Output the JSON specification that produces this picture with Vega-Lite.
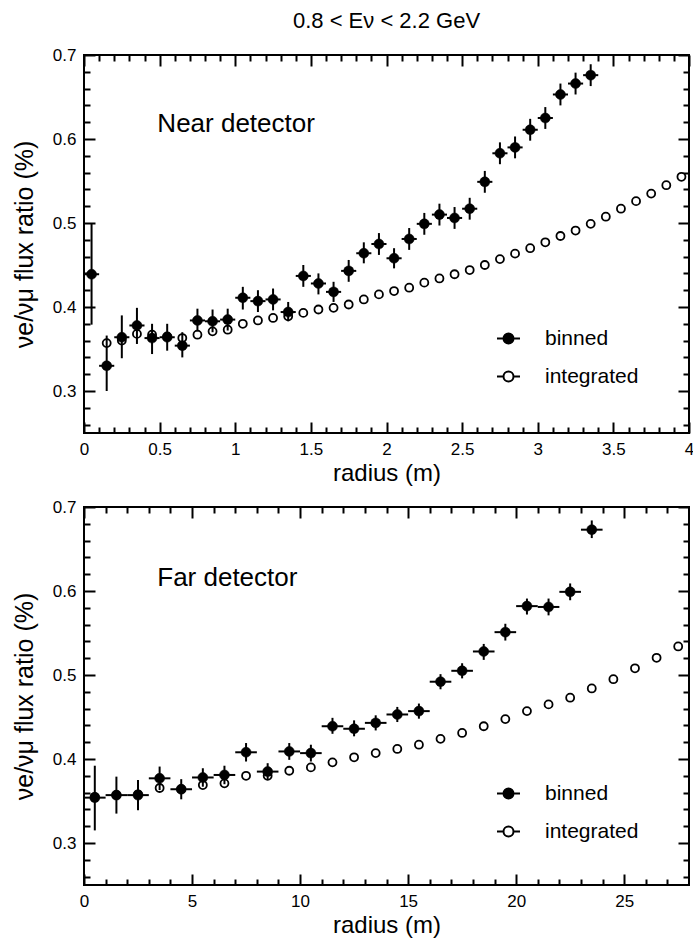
{
  "$schema": "https://vega.github.io/schema/vega-lite/v6.json",
  "background": "white",
  "padding": {"left": 11, "top": 10, "right": -2, "bottom": 5},
  "title": {"text": "0.8 < Eν < 2.2 GeV", "fontSize": 22, "fontWeight": "normal", "font": "Liberation Sans", "anchor": "middle", "frame": "group", "offset": 12, "color": "black"},
  "datasets": {
    "nearBin": [
      {"r": 0.05, "r0": 0.0, "r1": 0.1, "v": 0.439, "lo": 0.379, "hi": 0.499},
      {"r": 0.15, "r0": 0.1, "r1": 0.2, "v": 0.330, "lo": 0.300, "hi": 0.366},
      {"r": 0.25, "r0": 0.2, "r1": 0.3, "v": 0.364, "lo": 0.339, "hi": 0.390},
      {"r": 0.35, "r0": 0.3, "r1": 0.4, "v": 0.378, "lo": 0.356, "hi": 0.399},
      {"r": 0.45, "r0": 0.4, "r1": 0.5, "v": 0.363, "lo": 0.344, "hi": 0.380},
      {"r": 0.55, "r0": 0.5, "r1": 0.6, "v": 0.364, "lo": 0.348, "hi": 0.380},
      {"r": 0.65, "r0": 0.6, "r1": 0.7, "v": 0.354, "lo": 0.340, "hi": 0.370},
      {"r": 0.75, "r0": 0.7, "r1": 0.8, "v": 0.384, "lo": 0.371, "hi": 0.398},
      {"r": 0.85, "r0": 0.8, "r1": 0.9, "v": 0.383, "lo": 0.370, "hi": 0.397},
      {"r": 0.95, "r0": 0.9, "r1": 1.0, "v": 0.385, "lo": 0.372, "hi": 0.398},
      {"r": 1.05, "r0": 1.0, "r1": 1.1, "v": 0.411, "lo": 0.397, "hi": 0.424},
      {"r": 1.15, "r0": 1.1, "r1": 1.2, "v": 0.407, "lo": 0.394, "hi": 0.420},
      {"r": 1.25, "r0": 1.2, "r1": 1.3, "v": 0.409, "lo": 0.396, "hi": 0.422},
      {"r": 1.35, "r0": 1.3, "r1": 1.4, "v": 0.394, "lo": 0.383, "hi": 0.406},
      {"r": 1.45, "r0": 1.4, "r1": 1.5, "v": 0.437, "lo": 0.424, "hi": 0.450},
      {"r": 1.55, "r0": 1.5, "r1": 1.6, "v": 0.428, "lo": 0.415, "hi": 0.440},
      {"r": 1.65, "r0": 1.6, "r1": 1.7, "v": 0.418, "lo": 0.406, "hi": 0.430},
      {"r": 1.75, "r0": 1.7, "r1": 1.8, "v": 0.443, "lo": 0.430, "hi": 0.456},
      {"r": 1.85, "r0": 1.8, "r1": 1.9, "v": 0.464, "lo": 0.452, "hi": 0.477},
      {"r": 1.95, "r0": 1.9, "r1": 2.0, "v": 0.475, "lo": 0.462, "hi": 0.488},
      {"r": 2.05, "r0": 2.0, "r1": 2.1, "v": 0.458, "lo": 0.446, "hi": 0.470},
      {"r": 2.15, "r0": 2.1, "r1": 2.2, "v": 0.481, "lo": 0.468, "hi": 0.494},
      {"r": 2.25, "r0": 2.2, "r1": 2.3, "v": 0.499, "lo": 0.486, "hi": 0.512},
      {"r": 2.35, "r0": 2.3, "r1": 2.4, "v": 0.510, "lo": 0.497, "hi": 0.523},
      {"r": 2.45, "r0": 2.4, "r1": 2.5, "v": 0.506, "lo": 0.493, "hi": 0.519},
      {"r": 2.55, "r0": 2.5, "r1": 2.6, "v": 0.517, "lo": 0.504, "hi": 0.530},
      {"r": 2.65, "r0": 2.6, "r1": 2.7, "v": 0.549, "lo": 0.536, "hi": 0.562},
      {"r": 2.75, "r0": 2.7, "r1": 2.8, "v": 0.583, "lo": 0.570, "hi": 0.596},
      {"r": 2.85, "r0": 2.8, "r1": 2.9, "v": 0.590, "lo": 0.577, "hi": 0.603},
      {"r": 2.95, "r0": 2.9, "r1": 3.0, "v": 0.611, "lo": 0.598, "hi": 0.624},
      {"r": 3.05, "r0": 3.0, "r1": 3.1, "v": 0.625, "lo": 0.612, "hi": 0.638},
      {"r": 3.15, "r0": 3.1, "r1": 3.2, "v": 0.653, "lo": 0.640, "hi": 0.666},
      {"r": 3.25, "r0": 3.2, "r1": 3.3, "v": 0.666, "lo": 0.653, "hi": 0.679},
      {"r": 3.35, "r0": 3.3, "r1": 3.4, "v": 0.676, "lo": 0.663, "hi": 0.689}
    ],
    "nearInt": [
      {"r": 0.15, "v": 0.357}, {"r": 0.25, "v": 0.360}, {"r": 0.35, "v": 0.368}, {"r": 0.45, "v": 0.367},
      {"r": 0.55, "v": 0.365}, {"r": 0.65, "v": 0.363}, {"r": 0.75, "v": 0.367}, {"r": 0.85, "v": 0.371},
      {"r": 0.95, "v": 0.373}, {"r": 1.05, "v": 0.380}, {"r": 1.15, "v": 0.384}, {"r": 1.25, "v": 0.387},
      {"r": 1.35, "v": 0.389}, {"r": 1.45, "v": 0.393}, {"r": 1.55, "v": 0.397}, {"r": 1.65, "v": 0.399},
      {"r": 1.75, "v": 0.403}, {"r": 1.85, "v": 0.409}, {"r": 1.95, "v": 0.415}, {"r": 2.05, "v": 0.419},
      {"r": 2.15, "v": 0.423}, {"r": 2.25, "v": 0.429}, {"r": 2.35, "v": 0.434}, {"r": 2.45, "v": 0.439},
      {"r": 2.55, "v": 0.444}, {"r": 2.65, "v": 0.450}, {"r": 2.75, "v": 0.457}, {"r": 2.85, "v": 0.4635},
      {"r": 2.95, "v": 0.470}, {"r": 3.05, "v": 0.477}, {"r": 3.15, "v": 0.4845}, {"r": 3.25, "v": 0.491},
      {"r": 3.35, "v": 0.499}, {"r": 3.45, "v": 0.5075}, {"r": 3.55, "v": 0.517}, {"r": 3.65, "v": 0.526},
      {"r": 3.75, "v": 0.535}, {"r": 3.85, "v": 0.545}, {"r": 3.95, "v": 0.555}
    ],
    "farBin": [
      {"r": 0.5, "r0": 0, "r1": 1, "v": 0.354, "lo": 0.315, "hi": 0.392},
      {"r": 1.5, "r0": 1, "r1": 2, "v": 0.357, "lo": 0.335, "hi": 0.379},
      {"r": 2.5, "r0": 2, "r1": 3, "v": 0.357, "lo": 0.339, "hi": 0.375},
      {"r": 3.5, "r0": 3, "r1": 4, "v": 0.377, "lo": 0.363, "hi": 0.391},
      {"r": 4.5, "r0": 4, "r1": 5, "v": 0.364, "lo": 0.352, "hi": 0.376},
      {"r": 5.5, "r0": 5, "r1": 6, "v": 0.378, "lo": 0.367, "hi": 0.389},
      {"r": 6.5, "r0": 6, "r1": 7, "v": 0.381, "lo": 0.370, "hi": 0.392},
      {"r": 7.5, "r0": 7, "r1": 8, "v": 0.408, "lo": 0.397, "hi": 0.419},
      {"r": 8.5, "r0": 8, "r1": 9, "v": 0.385, "lo": 0.375, "hi": 0.395},
      {"r": 9.5, "r0": 9, "r1": 10, "v": 0.409, "lo": 0.399, "hi": 0.419},
      {"r": 10.5, "r0": 10, "r1": 11, "v": 0.407, "lo": 0.397, "hi": 0.417},
      {"r": 11.5, "r0": 11, "r1": 12, "v": 0.439, "lo": 0.430, "hi": 0.449},
      {"r": 12.5, "r0": 12, "r1": 13, "v": 0.436, "lo": 0.427, "hi": 0.446},
      {"r": 13.5, "r0": 13, "r1": 14, "v": 0.443, "lo": 0.434, "hi": 0.452},
      {"r": 14.5, "r0": 14, "r1": 15, "v": 0.453, "lo": 0.444, "hi": 0.462},
      {"r": 15.5, "r0": 15, "r1": 16, "v": 0.457, "lo": 0.448, "hi": 0.466},
      {"r": 16.5, "r0": 16, "r1": 17, "v": 0.492, "lo": 0.483, "hi": 0.501},
      {"r": 17.5, "r0": 17, "r1": 18, "v": 0.505, "lo": 0.496, "hi": 0.514},
      {"r": 18.5, "r0": 18, "r1": 19, "v": 0.528, "lo": 0.518, "hi": 0.537},
      {"r": 19.5, "r0": 19, "r1": 20, "v": 0.551, "lo": 0.541, "hi": 0.561},
      {"r": 20.5, "r0": 20, "r1": 21, "v": 0.582, "lo": 0.572, "hi": 0.591},
      {"r": 21.5, "r0": 21, "r1": 22, "v": 0.581, "lo": 0.571, "hi": 0.591},
      {"r": 22.5, "r0": 22, "r1": 23, "v": 0.599, "lo": 0.589, "hi": 0.609},
      {"r": 23.5, "r0": 23, "r1": 24, "v": 0.673, "lo": 0.663, "hi": 0.684}
    ],
    "farInt": [
      {"r": 0.5, "v": 0.355}, {"r": 1.5, "v": 0.357}, {"r": 2.5, "v": 0.358}, {"r": 3.5, "v": 0.3655},
      {"r": 4.5, "v": 0.364}, {"r": 5.5, "v": 0.369}, {"r": 6.5, "v": 0.371}, {"r": 7.5, "v": 0.380},
      {"r": 8.5, "v": 0.380}, {"r": 9.5, "v": 0.386}, {"r": 10.5, "v": 0.390}, {"r": 11.5, "v": 0.396},
      {"r": 12.5, "v": 0.402}, {"r": 13.5, "v": 0.407}, {"r": 14.5, "v": 0.412}, {"r": 15.5, "v": 0.417},
      {"r": 16.5, "v": 0.424}, {"r": 17.5, "v": 0.431}, {"r": 18.5, "v": 0.439}, {"r": 19.5, "v": 0.4475},
      {"r": 20.5, "v": 0.457}, {"r": 21.5, "v": 0.465}, {"r": 22.5, "v": 0.473}, {"r": 23.5, "v": 0.484},
      {"r": 24.5, "v": 0.495}, {"r": 25.5, "v": 0.508}, {"r": 26.5, "v": 0.5205}, {"r": 27.5, "v": 0.534}
    ]
  },
  "spacing": 74,
  "bounds": "flush",
  "resolve": {"scale": {"fill": "independent"}, "legend": {"fill": "independent"}},
  "vconcat": [
    {
      "width": 605, "height": 378,
      "resolve": {"axis": {"x": "independent", "y": "independent"}},
      "layer": [
        {
          "data": {"name": "nearInt"},
          "mark": {"type": "point", "filled": true, "stroke": "black", "strokeWidth": 1.8, "size": 64, "opacity": 1},
          "encoding": {
            "x": {"field": "r", "type": "quantitative", "scale": {"domain": [0, 4], "nice": false, "zero": false},
                  "axis": {"orient": "bottom", "values": [0, 0.5, 1, 1.5, 2, 2.5, 3, 3.5, 4], "tickSize": -11, "labelPadding": 19, "labelFontSize": 17, "format": "~g", "title": "radius (m)", "titleFontSize": 24, "titlePadding": 4}},
            "y": {"field": "v", "type": "quantitative", "scale": {"domain": [0.25, 0.7], "nice": false, "zero": false},
                  "axis": {"orient": "left", "values": [0.3, 0.4, 0.5, 0.6, 0.7], "tickSize": -11, "labelPadding": 19, "labelFontSize": 17, "format": "~g", "title": "νe/νμ flux ratio (%)", "titleFontSize": 25, "titlePadding": 15}},
            "fill": {"datum": "integrated", "type": "nominal", "scale": {"domain": ["binned", "integrated"], "range": ["black", "white"]},
                     "legend": {"orient": "none", "legendX": 414, "legendY": 273, "title": null, "symbolType": "M-2.3,0L-1,0M1,0L2.3,0M-1,0A1,1,0,1,1,1,0A1,1,0,1,1,-1,0Z", "symbolSize": 100, "symbolStrokeColor": "black", "symbolStrokeWidth": 2, "labelFontSize": 21, "labelOffset": 26, "rowPadding": 16, "padding": 0, "labelColor": "black"}}
          }
        },
        {
          "data": {"name": "nearBin"},
          "mark": {"type": "rule", "color": "black", "strokeWidth": 2},
          "encoding": {
            "x": {"field": "r", "type": "quantitative", "scale": {"domain": [0, 4], "nice": false, "zero": false},
                  "axis": {"orient": "top", "values": [0, 0.5, 1, 1.5, 2, 2.5, 3, 3.5, 4], "tickSize": -11, "labels": false, "title": null}},
            "y": {"field": "lo", "type": "quantitative", "scale": {"domain": [0.25, 0.7], "nice": false, "zero": false},
                  "axis": {"orient": "right", "values": [0.3, 0.4, 0.5, 0.6, 0.7], "tickSize": -11, "labels": false, "title": null}},
            "y2": {"field": "hi"}
          }
        },
        {
          "data": {"name": "nearBin"},
          "mark": {"type": "rule", "color": "black", "strokeWidth": 2},
          "encoding": {
            "x": {"field": "r0", "type": "quantitative", "scale": {"domain": [0, 4], "nice": false, "zero": false},
                  "axis": {"orient": "bottom", "values": [0.1, 0.2, 0.3, 0.4, 0.6, 0.7, 0.8, 0.9, 1.1, 1.2, 1.3, 1.4, 1.6, 1.7, 1.8, 1.9, 2.1, 2.2, 2.3, 2.4, 2.6, 2.7, 2.8, 2.9, 3.1, 3.2, 3.3, 3.4, 3.6, 3.7, 3.8, 3.9], "tickSize": -6, "labels": false, "title": null}},
            "x2": {"field": "r1"},
            "y": {"field": "v", "type": "quantitative", "scale": {"domain": [0.25, 0.7], "nice": false, "zero": false},
                  "axis": {"orient": "left", "values": [0.26, 0.28, 0.32, 0.34, 0.36, 0.38, 0.42, 0.44, 0.46, 0.48, 0.52, 0.54, 0.56, 0.58, 0.62, 0.64, 0.66, 0.68], "tickSize": -6, "labels": false, "title": null}}
          }
        },
        {
          "data": {"name": "nearBin"},
          "mark": {"type": "point", "filled": true, "stroke": "black", "strokeWidth": 0.5, "size": 100, "opacity": 1},
          "encoding": {
            "x": {"field": "r", "type": "quantitative", "scale": {"domain": [0, 4], "nice": false, "zero": false},
                  "axis": {"orient": "top", "values": [0.1, 0.2, 0.3, 0.4, 0.6, 0.7, 0.8, 0.9, 1.1, 1.2, 1.3, 1.4, 1.6, 1.7, 1.8, 1.9, 2.1, 2.2, 2.3, 2.4, 2.6, 2.7, 2.8, 2.9, 3.1, 3.2, 3.3, 3.4, 3.6, 3.7, 3.8, 3.9], "tickSize": -6, "labels": false, "title": null}},
            "y": {"field": "v", "type": "quantitative", "scale": {"domain": [0.25, 0.7], "nice": false, "zero": false},
                  "axis": {"orient": "right", "values": [0.26, 0.28, 0.32, 0.34, 0.36, 0.38, 0.42, 0.44, 0.46, 0.48, 0.52, 0.54, 0.56, 0.58, 0.62, 0.64, 0.66, 0.68], "tickSize": -6, "labels": false, "title": null}},
            "fill": {"datum": "binned", "type": "nominal"}
          }
        },
        {
          "data": {"values": [{}]},
          "mark": {"type": "text", "text": "Near detector", "align": "left", "baseline": "middle", "fontSize": 26, "font": "Liberation Sans", "color": "black"},
          "encoding": {
            "x": {"datum": 0.485, "type": "quantitative", "scale": {"domain": [0, 4], "nice": false, "zero": false}, "axis": null},
            "y": {"datum": 0.618, "type": "quantitative", "scale": {"domain": [0.25, 0.7], "nice": false, "zero": false}, "axis": null}
          }
        }
      ]
    },
    {
      "width": 605, "height": 378,
      "resolve": {"axis": {"x": "independent", "y": "independent"}},
      "layer": [
        {
          "data": {"name": "farInt"},
          "mark": {"type": "point", "filled": true, "stroke": "black", "strokeWidth": 1.8, "size": 64, "opacity": 1},
          "encoding": {
            "x": {"field": "r", "type": "quantitative", "scale": {"domain": [0, 28], "nice": false, "zero": false},
                  "axis": {"orient": "bottom", "values": [0, 5, 10, 15, 20, 25], "tickSize": -11, "labelPadding": 19, "labelFontSize": 17, "format": "~g", "title": "radius (m)", "titleFontSize": 24, "titlePadding": 4}},
            "y": {"field": "v", "type": "quantitative", "scale": {"domain": [0.25, 0.7], "nice": false, "zero": false},
                  "axis": {"orient": "left", "values": [0.3, 0.4, 0.5, 0.6, 0.7], "tickSize": -11, "labelPadding": 19, "labelFontSize": 17, "format": "~g", "title": "νe/νμ flux ratio (%)", "titleFontSize": 25, "titlePadding": 15}},
            "fill": {"datum": "integrated", "type": "nominal", "scale": {"domain": ["binned", "integrated"], "range": ["black", "white"]},
                     "legend": {"orient": "none", "legendX": 414, "legendY": 276, "title": null, "symbolType": "M-2.3,0L-1,0M1,0L2.3,0M-1,0A1,1,0,1,1,1,0A1,1,0,1,1,-1,0Z", "symbolSize": 100, "symbolStrokeColor": "black", "symbolStrokeWidth": 2, "labelFontSize": 21, "labelOffset": 26, "rowPadding": 16, "padding": 0, "labelColor": "black"}}
          }
        },
        {
          "data": {"name": "farBin"},
          "mark": {"type": "rule", "color": "black", "strokeWidth": 2},
          "encoding": {
            "x": {"field": "r", "type": "quantitative", "scale": {"domain": [0, 28], "nice": false, "zero": false},
                  "axis": {"orient": "top", "values": [0, 5, 10, 15, 20, 25], "tickSize": -11, "labels": false, "title": null}},
            "y": {"field": "lo", "type": "quantitative", "scale": {"domain": [0.25, 0.7], "nice": false, "zero": false},
                  "axis": {"orient": "right", "values": [0.3, 0.4, 0.5, 0.6, 0.7], "tickSize": -11, "labels": false, "title": null}},
            "y2": {"field": "hi"}
          }
        },
        {
          "data": {"name": "farBin"},
          "mark": {"type": "rule", "color": "black", "strokeWidth": 2},
          "encoding": {
            "x": {"field": "r0", "type": "quantitative", "scale": {"domain": [0, 28], "nice": false, "zero": false},
                  "axis": {"orient": "bottom", "values": [1, 2, 3, 4, 6, 7, 8, 9, 11, 12, 13, 14, 16, 17, 18, 19, 21, 22, 23, 24, 26, 27], "tickSize": -6, "labels": false, "title": null}},
            "x2": {"field": "r1"},
            "y": {"field": "v", "type": "quantitative", "scale": {"domain": [0.25, 0.7], "nice": false, "zero": false},
                  "axis": {"orient": "left", "values": [0.26, 0.28, 0.32, 0.34, 0.36, 0.38, 0.42, 0.44, 0.46, 0.48, 0.52, 0.54, 0.56, 0.58, 0.62, 0.64, 0.66, 0.68], "tickSize": -6, "labels": false, "title": null}}
          }
        },
        {
          "data": {"name": "farBin"},
          "mark": {"type": "point", "filled": true, "stroke": "black", "strokeWidth": 0.5, "size": 100, "opacity": 1},
          "encoding": {
            "x": {"field": "r", "type": "quantitative", "scale": {"domain": [0, 28], "nice": false, "zero": false},
                  "axis": {"orient": "top", "values": [1, 2, 3, 4, 6, 7, 8, 9, 11, 12, 13, 14, 16, 17, 18, 19, 21, 22, 23, 24, 26, 27], "tickSize": -6, "labels": false, "title": null}},
            "y": {"field": "v", "type": "quantitative", "scale": {"domain": [0.25, 0.7], "nice": false, "zero": false},
                  "axis": {"orient": "right", "values": [0.26, 0.28, 0.32, 0.34, 0.36, 0.38, 0.42, 0.44, 0.46, 0.48, 0.52, 0.54, 0.56, 0.58, 0.62, 0.64, 0.66, 0.68], "tickSize": -6, "labels": false, "title": null}},
            "fill": {"datum": "binned", "type": "nominal"}
          }
        },
        {
          "data": {"values": [{}]},
          "mark": {"type": "text", "text": "Far detector", "align": "left", "baseline": "middle", "fontSize": 26, "font": "Liberation Sans", "color": "black"},
          "encoding": {
            "x": {"datum": 3.39, "type": "quantitative", "scale": {"domain": [0, 28], "nice": false, "zero": false}, "axis": null},
            "y": {"datum": 0.616, "type": "quantitative", "scale": {"domain": [0.25, 0.7], "nice": false, "zero": false}, "axis": null}
          }
        }
      ]
    }
  ],
  "config": {
    "font": "Liberation Sans",
    "view": {"stroke": "black", "strokeWidth": 2},
    "axis": {"domain": false, "grid": false, "tickColor": "black", "tickWidth": 2, "labelColor": "black", "titleColor": "black", "labelFont": "Liberation Sans", "titleFont": "Liberation Sans", "titleFontWeight": "normal", "labelFlush": false, "labelOverlap": false, "labelBound": false}
  }
}
